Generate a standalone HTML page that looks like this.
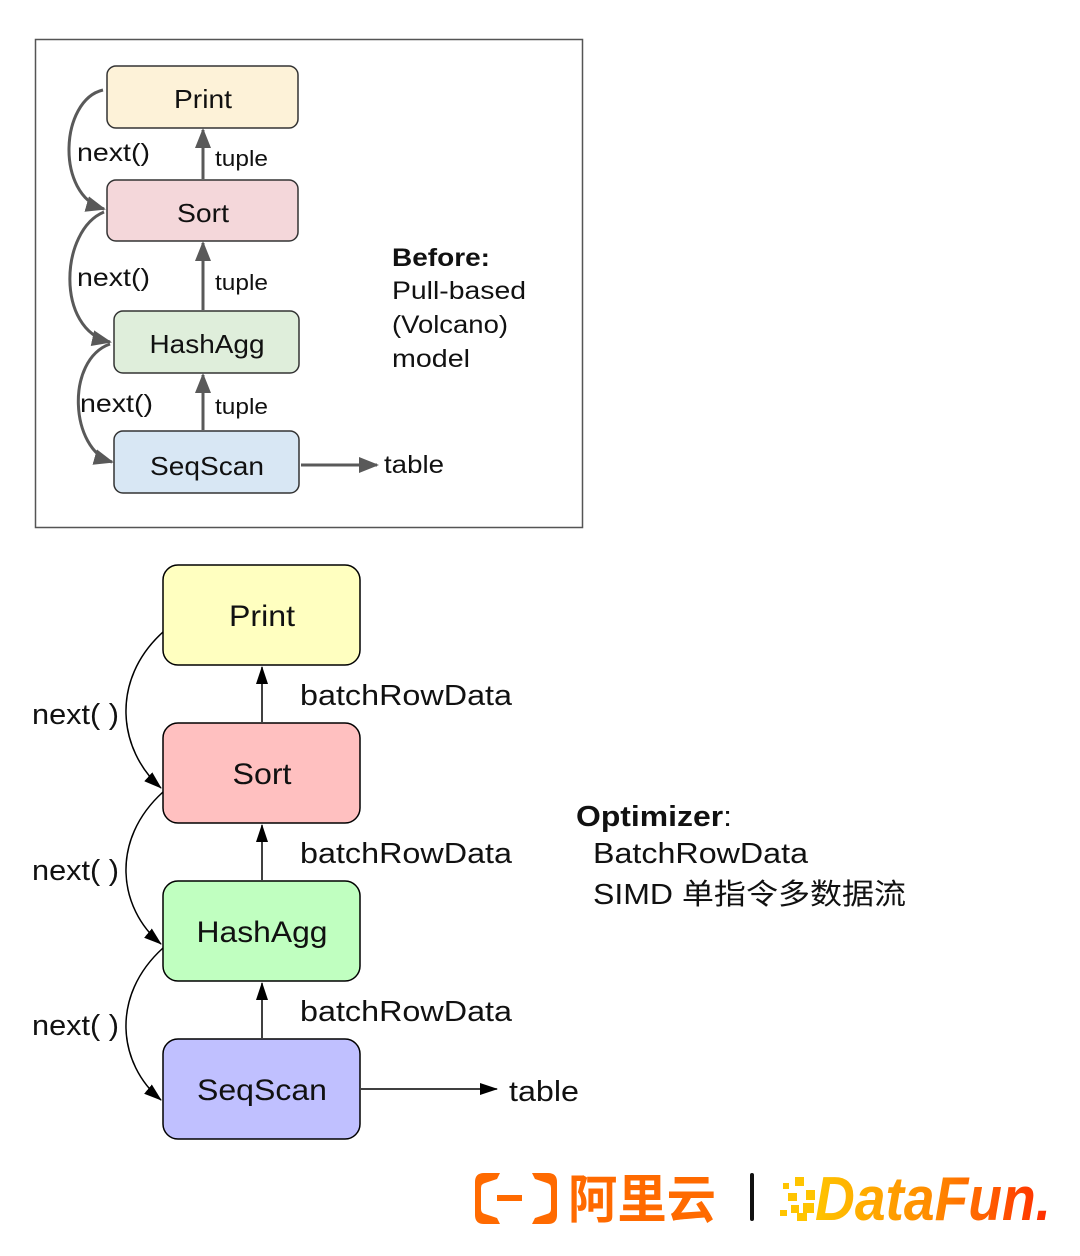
<!DOCTYPE html>
<html><head><meta charset="utf-8"><style>
html,body{margin:0;padding:0;background:#fff;}
svg{display:block;}
text{font-family:"Liberation Sans","Noto Sans CJK SC",sans-serif;}
</style></head><body>
<svg width="1080" height="1256" viewBox="0 0 1080 1256" xmlns="http://www.w3.org/2000/svg">
<defs>
<marker id="gb" markerWidth="20" markerHeight="20" refX="18" refY="10" orient="auto" markerUnits="userSpaceOnUse" viewBox="0 0 20 20"><path d="M0,2 L20,10 L0,18 z" fill="#595959"/></marker>
<marker id="ba" markerWidth="18" markerHeight="18" refX="17" refY="9" orient="auto" markerUnits="userSpaceOnUse" viewBox="0 0 18 18"><path d="M0,3 L18,9 L0,15 z" fill="#000"/></marker>
<linearGradient id="df" x1="0" x2="1" y1="0" y2="0"><stop offset="0" stop-color="#ffc400"/><stop offset="0.5" stop-color="#ff8a00"/><stop offset="1" stop-color="#ff2a00"/></linearGradient>
</defs>

<rect x="35.5" y="39.5" width="547" height="488" fill="none" stroke="#555" stroke-width="1.5"/>
<g stroke="#333" stroke-width="1.5">
<rect x="107" y="66" width="191" height="62" rx="9" fill="#fdf2d8"/>
<rect x="107" y="180" width="191" height="61" rx="9" fill="#f4d7da"/>
<rect x="114" y="311" width="185" height="62" rx="9" fill="#dfeedb"/>
<rect x="114" y="431" width="185" height="62" rx="9" fill="#d8e7f4"/>
</g>
<g font-size="26" fill="#111" text-anchor="middle">
<text x="203" y="108" textLength="58" lengthAdjust="spacingAndGlyphs">Print</text>
<text x="203" y="222" textLength="52" lengthAdjust="spacingAndGlyphs">Sort</text>
<text x="207" y="353" textLength="115" lengthAdjust="spacingAndGlyphs">HashAgg</text>
<text x="207" y="475" textLength="114" lengthAdjust="spacingAndGlyphs">SeqScan</text>
</g>
<g stroke="#595959" stroke-width="3" fill="none">
<path d="M103,90 C60,100 55,195 104,209" marker-end="url(#gb)"/>
<path d="M104,212 C60,230 55,330 110,342" marker-end="url(#gb)"/>
<path d="M110,344 C65,360 70,450 112,462" marker-end="url(#gb)"/>
<path d="M203,179 L203,130" marker-end="url(#gb)"/>
<path d="M203,310 L203,243" marker-end="url(#gb)"/>
<path d="M203,430 L203,375" marker-end="url(#gb)"/>
<path d="M301,465 L377,465" marker-end="url(#gb)"/>
</g>
<g font-size="25" fill="#111">
<text x="77" y="161" textLength="73" lengthAdjust="spacingAndGlyphs">next()</text>
<text x="77" y="286" textLength="73" lengthAdjust="spacingAndGlyphs">next()</text>
<text x="80" y="412" textLength="73" lengthAdjust="spacingAndGlyphs">next()</text>
<text x="384" y="473" textLength="60" lengthAdjust="spacingAndGlyphs">table</text>
<text x="392" y="266" font-weight="bold" textLength="98" lengthAdjust="spacingAndGlyphs">Before:</text>
<text x="392" y="299" textLength="134" lengthAdjust="spacingAndGlyphs">Pull-based</text>
<text x="392" y="333" textLength="116" lengthAdjust="spacingAndGlyphs">(Volcano)</text>
<text x="392" y="367" textLength="78" lengthAdjust="spacingAndGlyphs">model</text>
</g>
<g font-size="22" fill="#111">
<text x="215" y="166" textLength="53" lengthAdjust="spacingAndGlyphs">tuple</text>
<text x="215" y="290" textLength="53" lengthAdjust="spacingAndGlyphs">tuple</text>
<text x="215" y="414" textLength="53" lengthAdjust="spacingAndGlyphs">tuple</text>
</g>

<g stroke="#000" stroke-width="1.5">
<rect x="163" y="565" width="197" height="100" rx="15" fill="#ffffc0"/>
<rect x="163" y="723" width="197" height="100" rx="15" fill="#ffc0c0"/>
<rect x="163" y="881" width="197" height="100" rx="15" fill="#c0ffc0"/>
<rect x="163" y="1039" width="197" height="100" rx="15" fill="#c0c0ff"/>
</g>
<g font-size="30" fill="#111" text-anchor="middle">
<text x="262" y="626" textLength="66" lengthAdjust="spacingAndGlyphs">Print</text>
<text x="262" y="784" textLength="59" lengthAdjust="spacingAndGlyphs">Sort</text>
<text x="262" y="942" textLength="131" lengthAdjust="spacingAndGlyphs">HashAgg</text>
<text x="262" y="1100" textLength="130" lengthAdjust="spacingAndGlyphs">SeqScan</text>
</g>
<g stroke="#000" stroke-width="1.5" fill="none">
<path d="M163,632 C110,680 118,750 161,788" marker-end="url(#ba)"/>
<path d="M163,792 C110,840 118,908 161,944" marker-end="url(#ba)"/>
<path d="M163,948 C110,996 118,1064 161,1100" marker-end="url(#ba)"/>
<path d="M262,722 L262,667" marker-end="url(#ba)"/>
<path d="M262,880 L262,825" marker-end="url(#ba)"/>
<path d="M262,1038 L262,983" marker-end="url(#ba)"/>
<path d="M361,1089 L497,1089" marker-end="url(#ba)"/>
</g>
<g font-size="29" fill="#111">
<text x="32" y="724" textLength="87" lengthAdjust="spacingAndGlyphs">next( )</text>
<text x="32" y="880" textLength="87" lengthAdjust="spacingAndGlyphs">next( )</text>
<text x="32" y="1035" textLength="87" lengthAdjust="spacingAndGlyphs">next( )</text>
<text x="300" y="705" textLength="212" lengthAdjust="spacingAndGlyphs">batchRowData</text>
<text x="300" y="863" textLength="212" lengthAdjust="spacingAndGlyphs">batchRowData</text>
<text x="300" y="1021" textLength="212" lengthAdjust="spacingAndGlyphs">batchRowData</text>
<text x="509" y="1101" textLength="70" lengthAdjust="spacingAndGlyphs">table</text>
<text x="576" y="826" font-weight="bold" textLength="156" lengthAdjust="spacingAndGlyphs">Optimizer<tspan font-weight="normal">:</tspan></text>
<text x="593" y="863" textLength="215" lengthAdjust="spacingAndGlyphs">BatchRowData</text>
<text x="593" y="904" textLength="313" lengthAdjust="spacingAndGlyphs">SIMD 单指令多数据流</text>
</g>

<g fill="#ff6a00">
<path d="M500,1173 L484,1173 Q475,1173 475,1182 L475,1215 Q475,1224 484,1224 L500,1224 L497,1218 L485,1214 Q481,1213 481,1209 L481,1188 Q481,1184 485,1183 L497,1179 Z"/>
<path d="M532,1173 L548,1173 Q557,1173 557,1182 L557,1215 Q557,1224 548,1224 L532,1224 L535,1218 L547,1214 Q551,1213 551,1209 L551,1188 Q551,1184 547,1183 L535,1179 Z"/>
<rect x="497" y="1195" width="25" height="6"/>
</g>
<text x="568" y="1218" font-size="52" font-weight="bold" fill="#ff6a00" font-family="'Noto Sans CJK SC',sans-serif" textLength="148" lengthAdjust="spacingAndGlyphs">阿里云</text>
<rect x="750" y="1173" width="4" height="48" rx="2" fill="#111"/>
<g fill="#ffc400">
<rect x="783" y="1183" width="6" height="6"/><rect x="795" y="1177" width="9" height="9"/>
<rect x="788" y="1193" width="9" height="8"/><rect x="806" y="1190" width="9" height="10"/>
<rect x="791" y="1205" width="8" height="8"/><rect x="803" y="1203" width="11" height="10"/>
<rect x="780" y="1210" width="7" height="6"/><rect x="797" y="1213" width="10" height="8"/>
</g>
<text x="815" y="1220" font-size="62" font-weight="bold" font-style="italic" fill="url(#df)" textLength="236" lengthAdjust="spacingAndGlyphs">DataFun.</text>
</svg>
</body></html>
